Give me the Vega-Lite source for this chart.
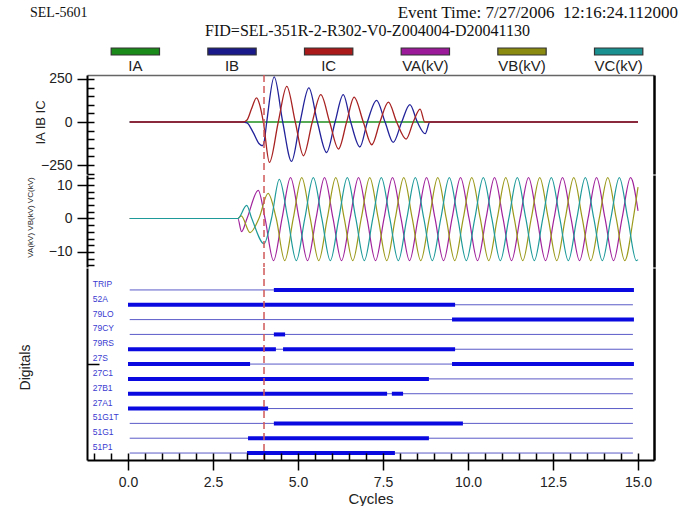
{
  "$schema": "https://vega.github.io/schema/vega-lite/v6.json",
  "padding": {"left": 12, "top": 4, "right": 5, "bottom": 0},
  "title": {"text": "SEL-5601", "anchor": "start", "frame": "bounds", "font": "Liberation Serif", "fontSize": 14, "fontWeight": "normal", "color": "#111", "dx": 18, "dy": 16, "offset": 0},
  "spacing": -2,
  "config": {
    "view": {"stroke": null},
    "font": "Liberation Sans",
    "axis": {"grid": false, "labelFont": "Liberation Sans", "titleFont": "Liberation Sans", "labelColor": "#222", "titleColor": "#222", "titleFontWeight": "normal", "domainColor": "#000", "tickColor": "#000"}
  },
  "datasets": {
    "leg": [{"s": "IA"}, {"s": "IB"}, {"s": "IC"}, {"s": "VA(kV)"}, {"s": "VB(kV)"}, {"s": "VC(kV)"}],
    "cursor": [{"t": 4.0}],
    "cur": [
      {"s": "IA", "t": 0.05, "v": 0}, {"s": "IA", "t": 15.0, "v": 0},
      {"s": "IB", "t": 0.05, "v": 0}, {"s": "IB", "t": 3.38, "v": 0}, {"s": "IB", "t": 3.5, "v": -5}, {"s": "IB", "t": 3.68, "v": -60}, {"s": "IB", "t": 3.85, "v": -125}, {"s": "IB", "t": 3.95, "v": -138}, {"s": "IB", "t": 4.0, "v": -120}, {"s": "IB", "t": 4.08, "v": 0}, {"s": "IB", "t": 4.3, "v": 262}, {"s": "IB", "t": 4.55, "v": 0}, {"s": "IB", "t": 4.81, "v": -229}, {"s": "IB", "t": 5.06, "v": 0}, {"s": "IB", "t": 5.32, "v": 198}, {"s": "IB", "t": 5.57, "v": 0}, {"s": "IB", "t": 5.84, "v": -177}, {"s": "IB", "t": 6.09, "v": 0}, {"s": "IB", "t": 6.33, "v": 159}, {"s": "IB", "t": 6.55, "v": 0}, {"s": "IB", "t": 6.82, "v": -145}, {"s": "IB", "t": 7.04, "v": 0}, {"s": "IB", "t": 7.31, "v": 126}, {"s": "IB", "t": 7.56, "v": 0}, {"s": "IB", "t": 7.8, "v": -118}, {"s": "IB", "t": 8.05, "v": 0}, {"s": "IB", "t": 8.29, "v": 101}, {"s": "IB", "t": 8.51, "v": 0}, {"s": "IB", "t": 8.74, "v": -68}, {"s": "IB", "t": 8.88, "v": 0}, {"s": "IB", "t": 15.0, "v": 0},
      {"s": "IC", "t": 0.05, "v": 0}, {"s": "IC", "t": 3.38, "v": 0}, {"s": "IC", "t": 3.5, "v": 12}, {"s": "IC", "t": 3.63, "v": 75}, {"s": "IC", "t": 3.78, "v": 140}, {"s": "IC", "t": 3.88, "v": 95}, {"s": "IC", "t": 3.98, "v": 0}, {"s": "IC", "t": 4.16, "v": -235}, {"s": "IC", "t": 4.42, "v": 0}, {"s": "IC", "t": 4.67, "v": 207}, {"s": "IC", "t": 4.92, "v": 0}, {"s": "IC", "t": 5.16, "v": -196}, {"s": "IC", "t": 5.42, "v": 0}, {"s": "IC", "t": 5.67, "v": 159}, {"s": "IC", "t": 5.93, "v": 0}, {"s": "IC", "t": 6.19, "v": -157}, {"s": "IC", "t": 6.43, "v": 0}, {"s": "IC", "t": 6.65, "v": 145}, {"s": "IC", "t": 6.92, "v": 0}, {"s": "IC", "t": 7.17, "v": -132}, {"s": "IC", "t": 7.41, "v": 0}, {"s": "IC", "t": 7.66, "v": 116}, {"s": "IC", "t": 7.9, "v": 0}, {"s": "IC", "t": 8.18, "v": -99}, {"s": "IC", "t": 8.39, "v": 0}, {"s": "IC", "t": 8.59, "v": 75}, {"s": "IC", "t": 8.73, "v": 0}, {"s": "IC", "t": 15.0, "v": 0}
    ],
    "vol": [
      {"s": "VA", "t": 0.05, "v": 0}, {"s": "VA", "t": 3.23, "v": 0}, {"s": "VA", "t": 3.34, "v": -3.9}, {"s": "VA", "t": 3.5, "v": 0}, {"s": "VA", "t": 3.83, "v": 8.4}, {"s": "VA", "t": 4.03, "v": 0}, {"s": "VA", "t": 4.28, "v": -12.6}, {"s": "VA", "t": 4.53, "v": 0}, {"s": "VA", "t": 4.78, "v": 12.2}, {"s": "VA", "t": 5.03, "v": 0}, {"s": "VA", "t": 5.28, "v": -12.6}, {"s": "VA", "t": 5.53, "v": 0}, {"s": "VA", "t": 5.78, "v": 12.2}, {"s": "VA", "t": 6.03, "v": 0}, {"s": "VA", "t": 6.28, "v": -12.6}, {"s": "VA", "t": 6.53, "v": 0}, {"s": "VA", "t": 6.78, "v": 12.2}, {"s": "VA", "t": 7.03, "v": 0}, {"s": "VA", "t": 7.28, "v": -12.6}, {"s": "VA", "t": 7.53, "v": 0}, {"s": "VA", "t": 7.78, "v": 12.2}, {"s": "VA", "t": 8.03, "v": 0}, {"s": "VA", "t": 8.28, "v": -12.6}, {"s": "VA", "t": 8.53, "v": 0}, {"s": "VA", "t": 8.78, "v": 12.2}, {"s": "VA", "t": 9.03, "v": 0}, {"s": "VA", "t": 9.28, "v": -12.6}, {"s": "VA", "t": 9.53, "v": 0}, {"s": "VA", "t": 9.78, "v": 12.2}, {"s": "VA", "t": 10.03, "v": 0}, {"s": "VA", "t": 10.28, "v": -12.6}, {"s": "VA", "t": 10.53, "v": 0}, {"s": "VA", "t": 10.78, "v": 12.2}, {"s": "VA", "t": 11.03, "v": 0}, {"s": "VA", "t": 11.28, "v": -12.6}, {"s": "VA", "t": 11.53, "v": 0}, {"s": "VA", "t": 11.78, "v": 12.2}, {"s": "VA", "t": 12.03, "v": 0}, {"s": "VA", "t": 12.28, "v": -12.6}, {"s": "VA", "t": 12.53, "v": 0}, {"s": "VA", "t": 12.78, "v": 12.2}, {"s": "VA", "t": 13.03, "v": 0}, {"s": "VA", "t": 13.28, "v": -12.6}, {"s": "VA", "t": 13.53, "v": 0}, {"s": "VA", "t": 13.78, "v": 12.2}, {"s": "VA", "t": 14.03, "v": 0}, {"s": "VA", "t": 14.28, "v": -12.6}, {"s": "VA", "t": 14.53, "v": 0}, {"s": "VA", "t": 14.78, "v": 12.2}, {"s": "VA", "t": 15.0, "v": 2.3},
      {"s": "VB", "t": 0.05, "v": 0}, {"s": "VB", "t": 3.23, "v": 0}, {"s": "VB", "t": 3.33, "v": 0.8}, {"s": "VB", "t": 3.59, "v": -4.2}, {"s": "VB", "t": 3.85, "v": 0}, {"s": "VB", "t": 4.12, "v": 7.5}, {"s": "VB", "t": 4.36, "v": 0}, {"s": "VB", "t": 4.61, "v": -12.6}, {"s": "VB", "t": 4.86, "v": 0}, {"s": "VB", "t": 5.11, "v": 12.2}, {"s": "VB", "t": 5.36, "v": 0}, {"s": "VB", "t": 5.61, "v": -12.6}, {"s": "VB", "t": 5.86, "v": 0}, {"s": "VB", "t": 6.11, "v": 12.2}, {"s": "VB", "t": 6.36, "v": 0}, {"s": "VB", "t": 6.61, "v": -12.6}, {"s": "VB", "t": 6.86, "v": 0}, {"s": "VB", "t": 7.11, "v": 12.2}, {"s": "VB", "t": 7.36, "v": 0}, {"s": "VB", "t": 7.61, "v": -12.6}, {"s": "VB", "t": 7.86, "v": 0}, {"s": "VB", "t": 8.11, "v": 12.2}, {"s": "VB", "t": 8.36, "v": 0}, {"s": "VB", "t": 8.61, "v": -12.6}, {"s": "VB", "t": 8.86, "v": 0}, {"s": "VB", "t": 9.11, "v": 12.2}, {"s": "VB", "t": 9.36, "v": 0}, {"s": "VB", "t": 9.61, "v": -12.6}, {"s": "VB", "t": 9.86, "v": 0}, {"s": "VB", "t": 10.11, "v": 12.2}, {"s": "VB", "t": 10.36, "v": 0}, {"s": "VB", "t": 10.61, "v": -12.6}, {"s": "VB", "t": 10.86, "v": 0}, {"s": "VB", "t": 11.11, "v": 12.2}, {"s": "VB", "t": 11.36, "v": 0}, {"s": "VB", "t": 11.61, "v": -12.6}, {"s": "VB", "t": 11.86, "v": 0}, {"s": "VB", "t": 12.11, "v": 12.2}, {"s": "VB", "t": 12.36, "v": 0}, {"s": "VB", "t": 12.61, "v": -12.6}, {"s": "VB", "t": 12.86, "v": 0}, {"s": "VB", "t": 13.11, "v": 12.2}, {"s": "VB", "t": 13.36, "v": 0}, {"s": "VB", "t": 13.61, "v": -12.6}, {"s": "VB", "t": 13.86, "v": 0}, {"s": "VB", "t": 14.11, "v": 12.2}, {"s": "VB", "t": 14.36, "v": 0}, {"s": "VB", "t": 14.61, "v": -12.6}, {"s": "VB", "t": 14.86, "v": 0}, {"s": "VB", "t": 15.0, "v": 9.4},
      {"s": "VC", "t": 0.05, "v": 0}, {"s": "VC", "t": 3.23, "v": 0}, {"s": "VC", "t": 3.49, "v": 3.9}, {"s": "VC", "t": 3.64, "v": 0}, {"s": "VC", "t": 4.0, "v": -7.5}, {"s": "VC", "t": 4.22, "v": 0}, {"s": "VC", "t": 4.45, "v": 11.7}, {"s": "VC", "t": 4.7, "v": 0}, {"s": "VC", "t": 4.95, "v": -12.6}, {"s": "VC", "t": 5.2, "v": 0}, {"s": "VC", "t": 5.45, "v": 12.2}, {"s": "VC", "t": 5.7, "v": 0}, {"s": "VC", "t": 5.95, "v": -12.6}, {"s": "VC", "t": 6.2, "v": 0}, {"s": "VC", "t": 6.45, "v": 12.2}, {"s": "VC", "t": 6.7, "v": 0}, {"s": "VC", "t": 6.95, "v": -12.6}, {"s": "VC", "t": 7.2, "v": 0}, {"s": "VC", "t": 7.45, "v": 12.2}, {"s": "VC", "t": 7.7, "v": 0}, {"s": "VC", "t": 7.95, "v": -12.6}, {"s": "VC", "t": 8.2, "v": 0}, {"s": "VC", "t": 8.45, "v": 12.2}, {"s": "VC", "t": 8.7, "v": 0}, {"s": "VC", "t": 8.95, "v": -12.6}, {"s": "VC", "t": 9.2, "v": 0}, {"s": "VC", "t": 9.45, "v": 12.2}, {"s": "VC", "t": 9.7, "v": 0}, {"s": "VC", "t": 9.95, "v": -12.6}, {"s": "VC", "t": 10.2, "v": 0}, {"s": "VC", "t": 10.45, "v": 12.2}, {"s": "VC", "t": 10.7, "v": 0}, {"s": "VC", "t": 10.95, "v": -12.6}, {"s": "VC", "t": 11.2, "v": 0}, {"s": "VC", "t": 11.45, "v": 12.2}, {"s": "VC", "t": 11.7, "v": 0}, {"s": "VC", "t": 11.95, "v": -12.6}, {"s": "VC", "t": 12.2, "v": 0}, {"s": "VC", "t": 12.45, "v": 12.2}, {"s": "VC", "t": 12.7, "v": 0}, {"s": "VC", "t": 12.95, "v": -12.6}, {"s": "VC", "t": 13.2, "v": 0}, {"s": "VC", "t": 13.45, "v": 12.2}, {"s": "VC", "t": 13.7, "v": 0}, {"s": "VC", "t": 13.95, "v": -12.6}, {"s": "VC", "t": 14.2, "v": 0}, {"s": "VC", "t": 14.45, "v": 12.2}, {"s": "VC", "t": 14.7, "v": 0}, {"s": "VC", "t": 14.95, "v": -12.6}, {"s": "VC", "t": 15.0, "v": -12.3}
    ],
    "dig": [
      {"ch": "TRIP", "r": 0, "a": 0.05, "b": 14.85}, {"ch": "52A", "r": 1, "a": 0.05, "b": 14.85}, {"ch": "79LO", "r": 2, "a": 0.05, "b": 14.85}, {"ch": "79CY", "r": 3, "a": 0.05, "b": 14.85}, {"ch": "79RS", "r": 4, "a": 0.05, "b": 14.85}, {"ch": "27S", "r": 5, "a": 0.05, "b": 14.85}, {"ch": "27C1", "r": 6, "a": 0.05, "b": 14.85}, {"ch": "27B1", "r": 7, "a": 0.05, "b": 14.85}, {"ch": "27A1", "r": 8, "a": 0.05, "b": 14.85}, {"ch": "51G1T", "r": 9, "a": 0.05, "b": 14.85}, {"ch": "51G1", "r": 10, "a": 0.05, "b": 14.85}, {"ch": "51P1", "r": 11, "a": 0.05, "b": 14.85}
    ],
    "seg": [
      {"r": 0, "a": 4.29, "b": 14.88}, {"r": 1, "a": 0, "b": 9.62}, {"r": 2, "a": 9.53, "b": 14.88}, {"r": 3, "a": 4.29, "b": 4.62}, {"r": 4, "a": 0, "b": 4.35}, {"r": 4, "a": 4.56, "b": 9.62}, {"r": 5, "a": 0, "b": 3.59}, {"r": 5, "a": 9.53, "b": 14.88}, {"r": 6, "a": 0, "b": 8.85}, {"r": 7, "a": 0, "b": 7.62}, {"r": 7, "a": 7.76, "b": 8.09}, {"r": 8, "a": 0, "b": 4.12}, {"r": 9, "a": 4.29, "b": 9.85}, {"r": 10, "a": 3.53, "b": 8.85}, {"r": 11, "a": 3.5, "b": 7.85}
    ]
  },
  "vconcat": [
    {
      "width": 580,
      "height": 7,
      "title": {"text": "Event Time: 7/27/2006\u00a0 12:16:24.112000", "anchor": "end", "frame": "bounds", "font": "Liberation Serif", "fontSize": 17, "fontWeight": "normal", "color": "#111", "dx": 11, "offset": 0},
      "data": {"name": "leg"},
      "mark": {"type": "bar", "stroke": "#333", "strokeWidth": 1.2},
      "encoding": {
        "x": {"field": "s", "type": "nominal", "sort": null, "scale": {"domain": ["IA", "IB", "IC", "VA(kV)", "VB(kV)", "VC(kV)"], "paddingInner": 0.5, "paddingOuter": 0.25},
          "axis": {"orient": "bottom", "labelAngle": 0, "ticks": false, "tickSize": 0, "domain": false, "labelFontSize": 15, "labelPadding": 3, "labelColor": "#222", "title": "FID=SEL-351R-2-R302-V0-Z004004-D20041130", "titleFont": "Liberation Serif", "titleFontSize": 16, "titleColor": "#111", "titleX": 280, "titleY": -25, "titleAlign": "center", "titleBaseline": "middle", "titleAngle": 0}},
        "fill": {"field": "s", "type": "nominal", "scale": {"domain": ["IA", "IB", "IC", "VA(kV)", "VB(kV)", "VC(kV)"], "range": ["#1a8a1a", "#1a1a8a", "#aa1a1a", "#9a1a9a", "#8a8a10", "#1a9090"]}, "legend": null}
      }
    },
    {
      "width": 567,
      "height": 99,
      "layer": [
        {
          "data": {"name": "cur"},
          "mark": {"type": "line", "interpolate": "monotone", "strokeWidth": 1.3},
          "encoding": {
            "x": {"field": "t", "type": "quantitative", "scale": {"domain": [-1.206, 15.47], "nice": false, "zero": false},
              "axis": {"orient": "top", "ticks": false, "labels": false, "title": null, "domain": true, "domainColor": "#666", "domainWidth": 1.5}},
            "y": {"field": "v", "type": "quantitative", "scale": {"domain": [-302, 273], "nice": false, "zero": false},
              "axis": {"orient": "left", "values": [-250, 0, 250], "tickSize": 10, "tickWidth": 1.5, "domain": true, "domainWidth": 2, "labelFontSize": 14, "labelPadding": 5, "minExtent": 75, "maxExtent": 75, "title": "IA IB IC", "titleFontSize": 13, "titleX": -47, "titleY": 47, "titleAlign": "center", "titleBaseline": "middle", "titleAngle": -90}},
            "color": {"field": "s", "type": "nominal", "scale": {"domain": ["IA", "IB", "IC", "VA", "VB", "VC"], "range": ["#1f8f1f", "#22229a", "#a82222", "#a0239c", "#9c9a1c", "#1f9a9a"]}, "legend": null}
          }
        },
        {
          "data": {"name": "cursor"},
          "mark": {"type": "rule", "color": "#d05858", "strokeDash": [7, 4], "strokeWidth": 1.5},
          "encoding": {"x": {"field": "t", "type": "quantitative", "axis": null}}
        },
        {
          "data": {"name": "cur"},
          "mark": {"type": "line", "opacity": 0},
          "encoding": {
            "x": {"field": "t", "type": "quantitative", "axis": null},
            "y": {"field": "v", "type": "quantitative", "axis": {"orient": "left", "values": [-300, -250, -200, -150, -100, -50, 0, 50, 100, 150, 200, 250], "tickSize": -7, "tickWidth": 1.5, "labels": false, "domain": false, "title": null, "zindex": 1}},
            "detail": {"field": "s"}
          }
        },
        {
          "data": {"name": "cur"},
          "mark": {"type": "line", "opacity": 0},
          "encoding": {
            "x": {"field": "t", "type": "quantitative", "axis": null},
            "y": {"field": "v", "type": "quantitative", "axis": {"orient": "right", "ticks": false, "labels": false, "title": null, "domain": true, "domainWidth": 2.5, "domainColor": "#000"}},
            "detail": {"field": "s"}
          }
        }
      ],
      "resolve": {"axis": {"x": "independent", "y": "independent"}}
    },
    {
      "width": 567,
      "height": 92,
      "layer": [
        {
          "data": {"name": "vol"},
          "mark": {"type": "line", "interpolate": "monotone", "strokeWidth": 1.2},
          "encoding": {
            "x": {"field": "t", "type": "quantitative", "scale": {"domain": [-1.206, 15.47], "nice": false, "zero": false}, "axis": null},
            "y": {"field": "v", "type": "quantitative", "scale": {"domain": [-14.5, 13.0], "nice": false, "zero": false},
              "axis": {"orient": "left", "values": [-10, 0, 10], "tickSize": 10, "tickWidth": 1.5, "domain": true, "domainWidth": 2, "labelFontSize": 14, "labelPadding": 5, "minExtent": 75, "maxExtent": 75, "title": "VA(kV) VB(kV) VC(kV)", "titleFontSize": 8, "titleX": -57, "titleY": 42, "titleAlign": "center", "titleBaseline": "middle", "titleAngle": -90}},
            "color": {"field": "s", "type": "nominal", "scale": {"domain": ["IA", "IB", "IC", "VA", "VB", "VC"], "range": ["#1f8f1f", "#22229a", "#a82222", "#a0239c", "#9c9a1c", "#1f9a9a"]}, "legend": null}
          }
        },
        {
          "data": {"name": "cursor"},
          "mark": {"type": "rule", "color": "#d05858", "strokeDash": [7, 4], "strokeWidth": 1.5},
          "encoding": {"x": {"field": "t", "type": "quantitative", "axis": null}}
        },
        {
          "data": {"name": "vol"},
          "mark": {"type": "line", "opacity": 0},
          "encoding": {
            "x": {"field": "t", "type": "quantitative", "axis": null},
            "y": {"field": "v", "type": "quantitative", "axis": {"orient": "left", "values": [-14, -12, -10, -8, -6, -4, -2, 0, 2, 4, 6, 8, 10, 12], "tickSize": -7, "tickWidth": 1.5, "labels": false, "domain": false, "title": null, "zindex": 1}},
            "detail": {"field": "s"}
          }
        },
        {
          "data": {"name": "vol"},
          "mark": {"type": "line", "opacity": 0},
          "encoding": {
            "x": {"field": "t", "type": "quantitative", "axis": null},
            "y": {"field": "v", "type": "quantitative", "axis": {"orient": "right", "ticks": false, "labels": false, "title": null, "domain": true, "domainWidth": 2.5, "domainColor": "#000"}},
            "detail": {"field": "s"}
          }
        }
      ],
      "resolve": {"axis": {"x": "independent", "y": "independent"}}
    },
    {
      "width": 567,
      "height": 192,
      "layer": [
        {
          "data": {"name": "dig"},
          "mark": {"type": "rule", "color": "#5a5ac8", "strokeWidth": 1},
          "encoding": {
            "x": {"field": "a", "type": "quantitative", "scale": {"domain": [-1.206, 15.47], "nice": false, "zero": false},
              "axis": {"orient": "bottom", "values": [0, 2.5, 5, 7.5, 10, 12.5, 15], "format": ".1f", "tickSize": 10, "tickWidth": 1.5, "domain": true, "domainColor": "#000", "domainWidth": 2, "labelFontSize": 14, "labelPadding": 5, "title": "Cycles", "titleFontSize": 15, "titlePadding": 2}},
            "x2": {"field": "b"},
            "y": {"field": "r", "type": "quantitative", "scale": {"domain": [11.47, -1.48], "nice": false, "zero": false},
              "axis": {"orient": "left", "values": [5], "tickSize": -12, "tickWidth": 1.5, "labels": false, "domain": true, "domainColor": "#000", "domainWidth": 2, "minExtent": 75, "maxExtent": 75, "title": "Digitals", "titleFontSize": 14, "titleX": -62, "titleY": 99, "titleAlign": "center", "titleBaseline": "middle", "titleAngle": -90}}
          }
        },
        {
          "data": {"name": "seg"},
          "mark": {"type": "rule", "color": "#0a0ae0", "strokeWidth": 4, "strokeCap": "butt"},
          "encoding": {
            "x": {"field": "a", "type": "quantitative",
              "axis": {"orient": "bottom", "values": [-1, -0.5, 0, 0.5, 1, 1.5, 2, 2.5, 3, 3.5, 4, 4.5, 5, 5.5, 6, 6.5, 7, 7.5, 8, 8.5, 9, 9.5, 10, 10.5, 11, 11.5, 12, 12.5, 13, 13.5, 14, 14.5, 15], "tickSize": -7, "tickWidth": 1.5, "labels": false, "domain": false, "title": null, "zindex": 1}},
            "x2": {"field": "b"},
            "y": {"field": "r", "type": "quantitative",
              "axis": {"orient": "right", "ticks": false, "labels": false, "title": null, "domain": true, "domainWidth": 2.5, "domainColor": "#000"}}
          }
        },
        {
          "data": {"name": "dig"},
          "mark": {"type": "text", "align": "left", "baseline": "middle", "dy": -6, "dx": -37, "fontSize": 8.5, "color": "#3a3ad0", "font": "Liberation Sans"},
          "encoding": {
            "x": {"field": "a", "type": "quantitative", "axis": null},
            "y": {"field": "r", "type": "quantitative", "axis": null},
            "text": {"field": "ch"}
          }
        },
        {
          "data": {"name": "cursor"},
          "mark": {"type": "rule", "color": "#d05858", "strokeDash": [7, 4], "strokeWidth": 1.5},
          "encoding": {"x": {"field": "t", "type": "quantitative", "axis": null}}
        }
      ],
      "resolve": {"axis": {"x": "independent", "y": "independent"}}
    }
  ]
}
